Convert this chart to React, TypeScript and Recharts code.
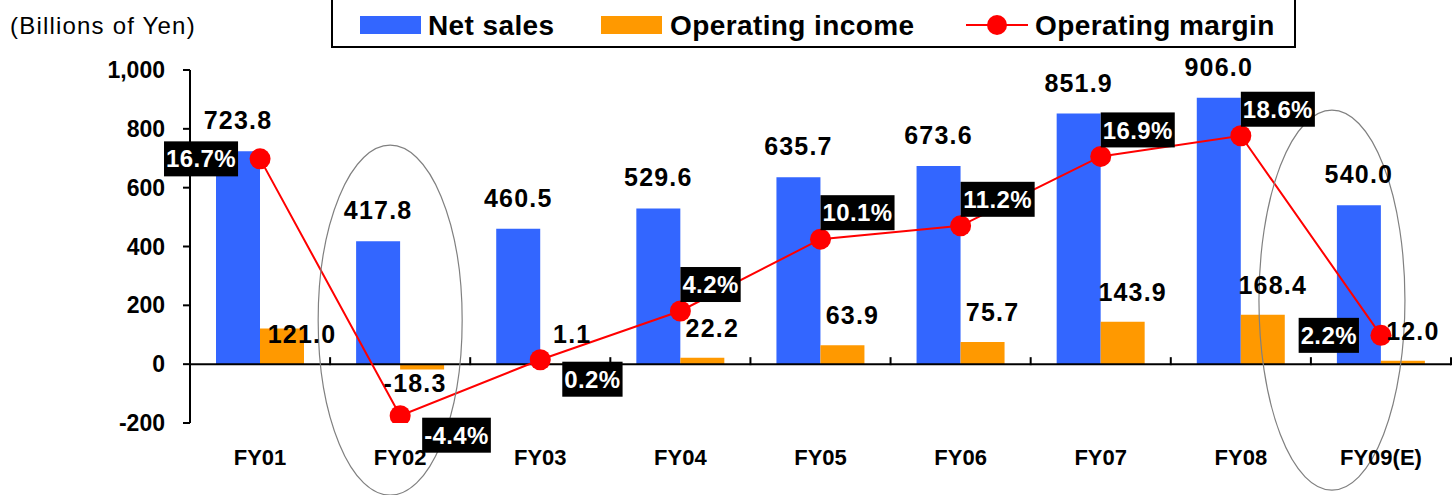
import {
  Bar,
  ComposedChart,
  Customized,
  LabelList,
  Legend,
  Line,
  ReferenceDot,
  ReferenceLine,
  XAxis,
  YAxis,
} from 'recharts';

const categories = ['FY01', 'FY02', 'FY03', 'FY04', 'FY05', 'FY06', 'FY07', 'FY08', 'FY09(E)'];
const netSales = [723.8, 417.8, 460.5, 529.6, 635.7, 673.6, 851.9, 906.0, 540.0];
const operatingIncome = [121.0, -18.3, 1.1, 22.2, 63.9, 75.7, 143.9, 168.4, 12.0];
const operatingMargin = [16.7, -4.4, 0.2, 4.2, 10.1, 11.2, 16.9, 18.6, 2.2];
const yenTicks = [-200, 0, 200, 400, 600, 800, 1000];

// where each margin badge sits relative to its dot
const marginBadgeSide = ['left', 'below', 'below', 'above', 'above', 'above', 'above', 'above', 'left'];
// the FY01 income label sits on the bar, not above it
const incomeLabelNudge: Record<string, [number, number]> = { FY01: [10, 35] };

const data = categories.map((fy, i) => ({
  fy,
  sales: netSales[i],
  income: operatingIncome[i],
  margin: operatingMargin[i],
}));

const FONT = '"Liberation Sans", Arial, Helvetica, sans-serif';
const BLUE = '#3366FF';
const ORANGE = '#FF9900';
const RED = '#FF0000';

const charW: Record<string, number> = { '.': 0.278, '%': 0.889, '-': 0.333 };
const textWidth = (s: string, size: number, spacing: number) =>
  s.split('').reduce((w, c) => w + (charW[c] ?? 0.556) * size + spacing, 0);

const SalesLabel = (p: any) => {
  const { x, y, width, height, value } = p;
  const top = Math.min(y, y + height);
  return (
    <text x={x + width / 2} y={top - 22} textAnchor="middle" fontFamily={FONT} fontWeight="bold" fontSize={25} letterSpacing={1.2} fill="#000">
      {Number(value).toFixed(1)}
    </text>
  );
};

const IncomeLabel = (p: any) => {
  const { x, y, width, height, value, index } = p;
  const top = Math.min(y, y + height);
  const bottom = Math.max(y, y + height);
  const [nx, ny] = incomeLabelNudge[categories[index]] ?? [0, 0];
  const cx = x + width / 2 + (value < 0 ? -7 : 10) + nx;
  const cy = (value < 0 ? bottom + 13 : top - 30) + ny;
  return (
    <text x={cx} y={cy + 9} textAnchor="middle" fontFamily={FONT} fontWeight="bold" fontSize={25} letterSpacing={1.2} fill="#000">
      {Number(value).toFixed(1)}
    </text>
  );
};

const MarginBadge = (p: any) => {
  const { x, y, value, index } = p;
  const label = `${Number(value).toFixed(1)}%`;
  const w = textWidth(label, 24, 0.4) + 4;
  const h = 35;
  const side = marginBadgeSide[index];
  let bx = x;
  let by = y - 9 - h;
  if (side === 'left') {
    bx = x - 22 - w;
    by = y - h / 2;
  } else if (side === 'below') {
    bx = x + 22;
    by = y + 2;
  }
  return (
    <g>
      <rect x={bx} y={by} width={w} height={h} fill="#000" />
      <text x={bx + w / 2} y={by + h / 2 + 8.6} textAnchor="middle" fontFamily={FONT} fontWeight="bold" fontSize={24} letterSpacing={0.4} fill="#fff">
        {label}
      </text>
    </g>
  );
};

const ZeroAxis = (p: any) => {
  const { x1, y1, x2 } = p;
  const step = (x2 - x1) / categories.length;
  return (
    <g>
      <line x1={x1} y1={y1} x2={x2} y2={y1} stroke="#000" strokeWidth={2} />
      {categories.map((c, i) => (
        <line key={c} x1={x1 + step * (i + 1)} x2={x1 + step * (i + 1)} y1={y1 + 1} y2={y1 - 7} stroke="#000" strokeWidth={2} />
      ))}
    </g>
  );
};

const ring = (dx: number, dy: number, rx: number, ry: number) => (p: any) => (
  <ellipse cx={p.cx + dx} cy={p.cy + dy} rx={rx} ry={ry} fill="none" stroke="#808080" strokeWidth={1.2} />
);

const LegendBox = () => (
  <svg width={965} height={52} style={{ display: 'block' }}>
    <rect x={1} y={1} width={963} height={50} fill="#fff" stroke="#000" strokeWidth={2} />
    <rect x={29} y={20} width={61} height={18} fill={BLUE} />
    <text x={97} y={39} fontFamily={FONT} fontWeight="bold" fontSize={28} letterSpacing={0.4} fill="#000">Net sales</text>
    <rect x={270} y={20} width={61} height={18} fill={ORANGE} />
    <text x={339} y={39} fontFamily={FONT} fontWeight="bold" fontSize={28} letterSpacing={0.4} fill="#000">Operating income</text>
    <line x1={635} y1={29} x2={697} y2={29} stroke={RED} strokeWidth={2} />
    <circle cx={666} cy={29} r={10} fill={RED} />
    <text x={704} y={39} fontFamily={FONT} fontWeight="bold" fontSize={28} letterSpacing={0.4} fill="#000">Operating margin</text>
  </svg>
);

export default function App() {
  return (
    <div style={{ position: 'absolute', left: 0, top: 0, width: 1452, height: 495, background: '#fff' }}>
      <ComposedChart width={1452} height={495} data={data} margin={{ top: 70, right: 1, bottom: 0, left: 0 }} barGap={0}>
        <XAxis
          dataKey="fy"
          xAxisId="cat"
          height={72}
          axisLine={false}
          tickLine={false}
          tickMargin={20}
          interval={0}
          tick={{ fontFamily: FONT, fontWeight: 'bold', fontSize: 22, fill: '#000' }}
        />
        <YAxis
          yAxisId="yen"
          width={190}
          domain={[-200, 1000]}
          ticks={yenTicks}
          allowDataOverflow
          tickFormatter={(v: number) => v.toLocaleString('en-US')}
          axisLine={{ stroke: '#000', strokeWidth: 2 }}
          tickLine={{ stroke: '#000', strokeWidth: 2 }}
          tickSize={7}
          tickMargin={18}
          tick={{ fontFamily: FONT, fontWeight: 'bold', fontSize: 23, fill: '#000' }}
        />
        <YAxis yAxisId="pct" orientation="right" hide domain={[-5, 24]} allowDataOverflow />
        <Customized
          component={() => (
            <text x={10} y={34} fontFamily={FONT} fontSize={24} letterSpacing={1.2} fill="#000">
              (Billions of Yen)
            </text>
          )}
        />
        <Bar xAxisId="cat" yAxisId="yen" dataKey="sales" name="Net sales" fill={BLUE} barSize={44} isAnimationActive={false}>
          <LabelList dataKey="sales" content={SalesLabel} />
        </Bar>
        <Bar xAxisId="cat" yAxisId="yen" dataKey="income" name="Operating income" fill={ORANGE} barSize={44} isAnimationActive={false}>
          <LabelList dataKey="income" content={IncomeLabel} />
        </Bar>
        <ReferenceLine xAxisId="cat" yAxisId="yen" y={0} shape={ZeroAxis} />
        <Line
          xAxisId="cat"
          yAxisId="pct"
          type="linear"
          dataKey="margin"
          name="Operating margin"
          stroke={RED}
          strokeWidth={2}
          dot={{ r: 10.5, fill: RED, stroke: RED, strokeWidth: 0 }}
          activeDot={false}
          isAnimationActive={false}
        >
          <LabelList dataKey="margin" content={MarginBadge} />
        </Line>
        <ReferenceDot xAxisId="cat" yAxisId="yen" x="FY02" y={0} r={1} shape={ring(-10, -44, 72, 175)} />
        <ReferenceDot xAxisId="cat" yAxisId="yen" x="FY09(E)" y={0} r={1} shape={ring(-49, -64, 73, 190)} />
        <Legend
          layout="horizontal"
          verticalAlign="middle"
          align="center"
          content={LegendBox}
          wrapperStyle={{ left: 331, top: -4, width: 965, height: 52 }}
        />
      </ComposedChart>
    </div>
  );
}
